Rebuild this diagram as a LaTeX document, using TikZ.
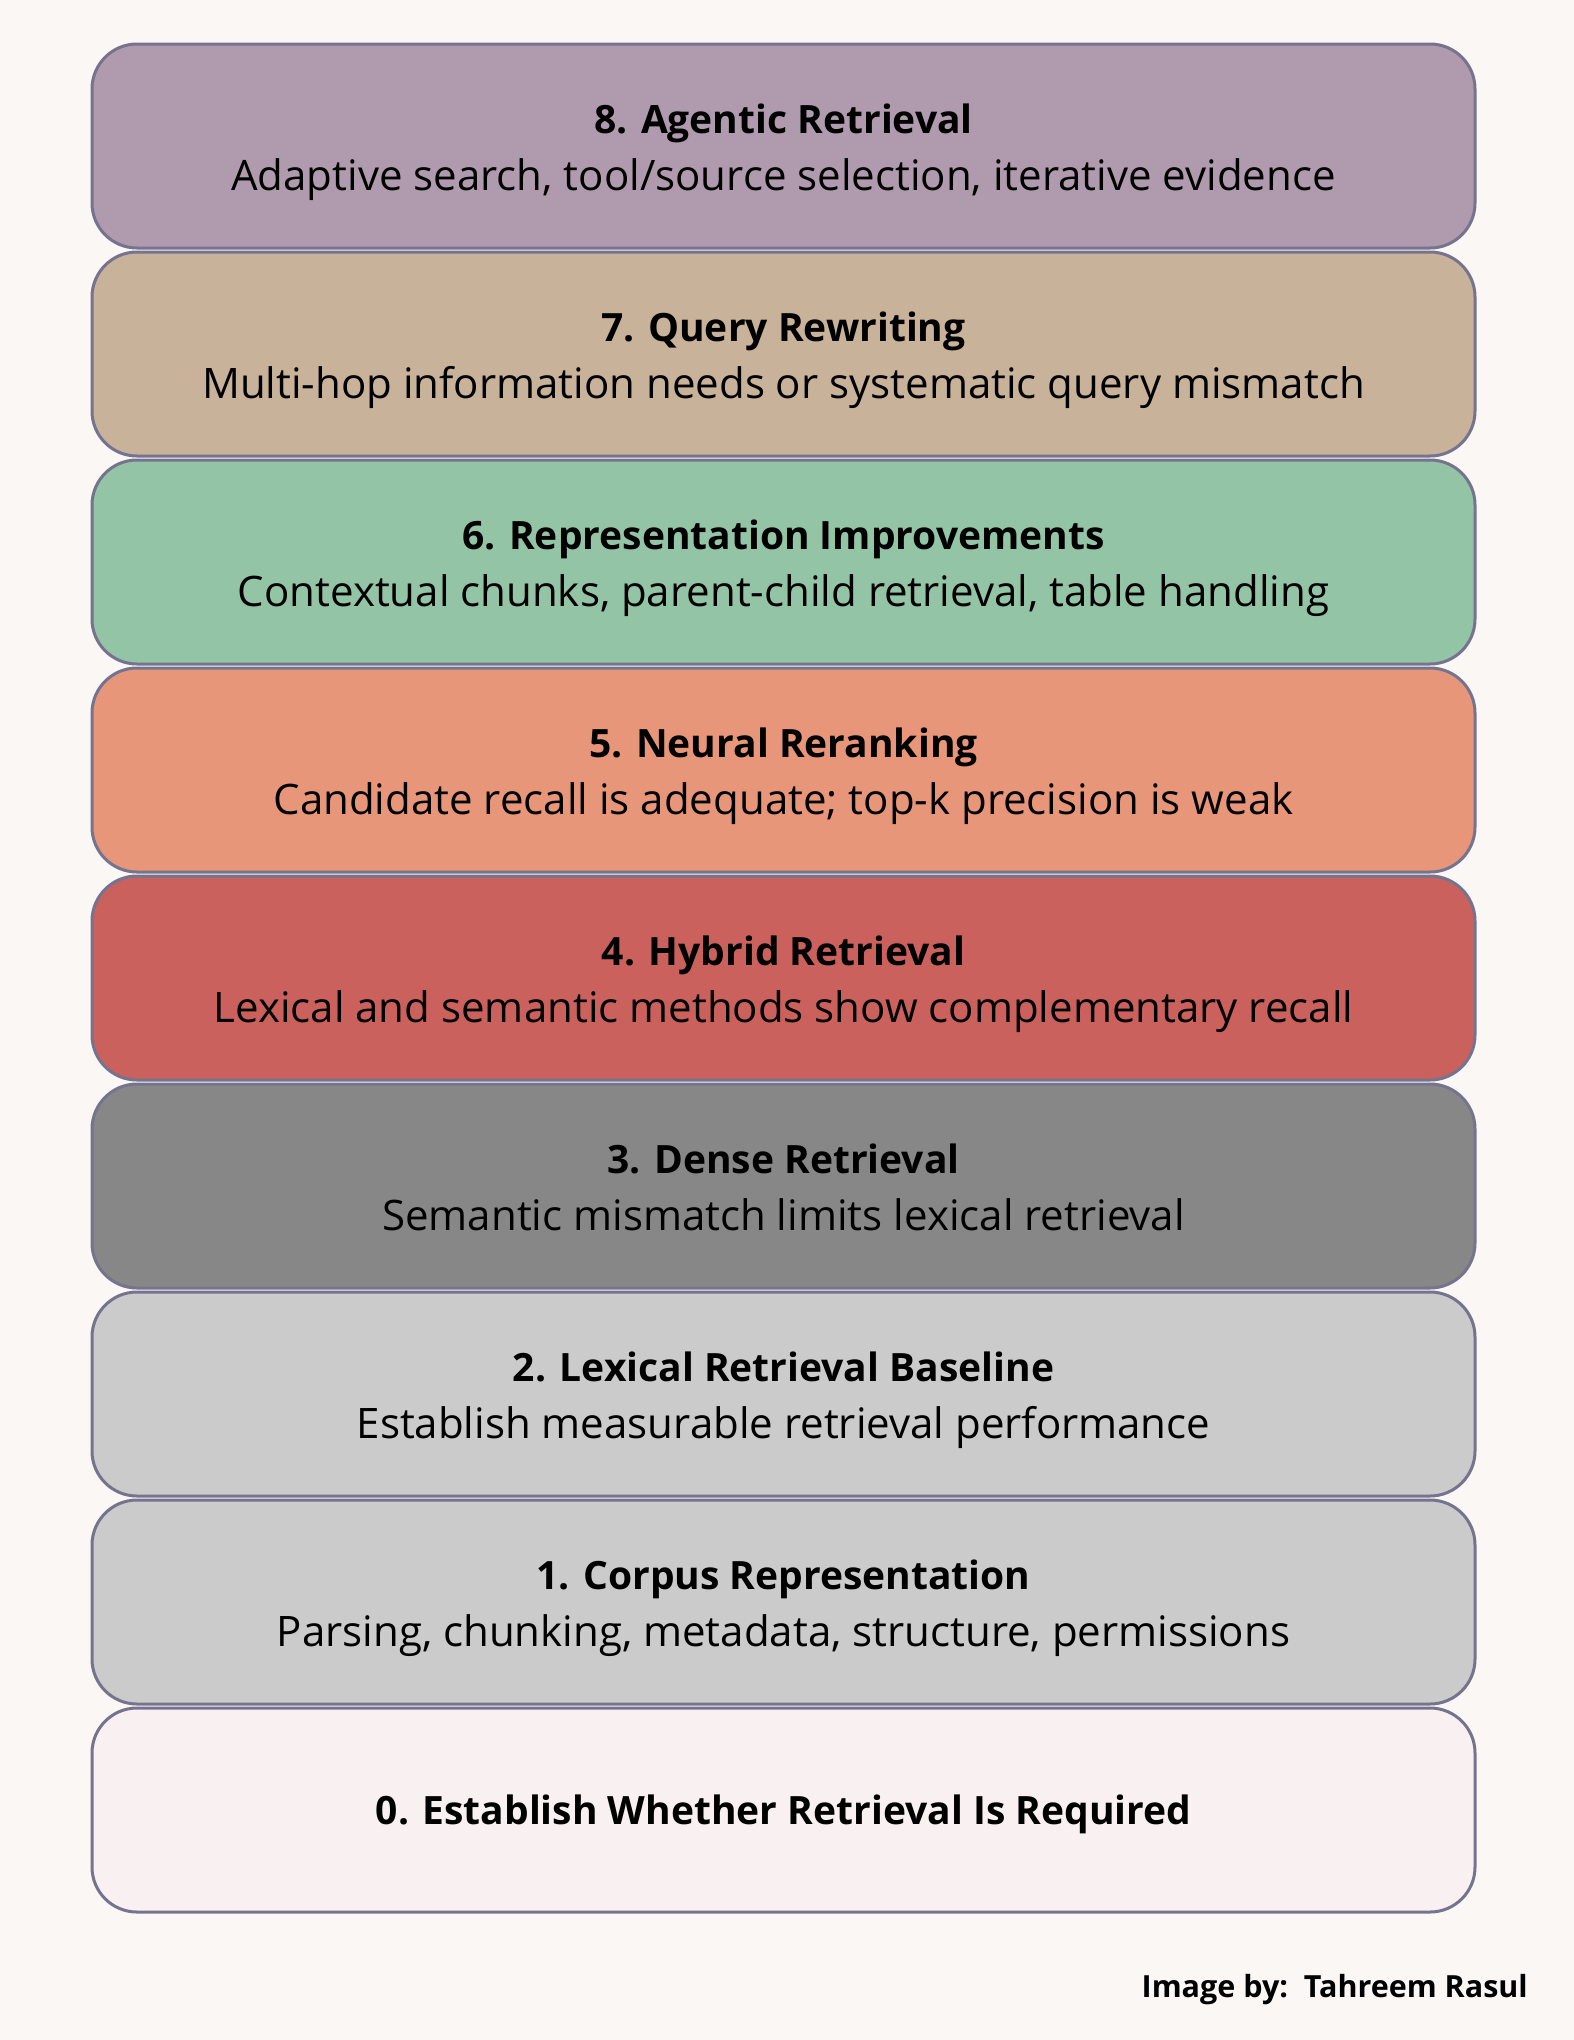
\documentclass[tikz,border=0pt]{standalone}
\usepackage{fontspec}
\setmainfont{Open Sans}
\usetikzlibrary{positioning}

\definecolor{bgcol}{HTML}{FAF7F4}
\definecolor{edgecol}{HTML}{76738F}
\definecolor{colA}{HTML}{B09BAE}
\definecolor{colB}{HTML}{C8B29A}
\definecolor{colC}{HTML}{93C4A6}
\definecolor{colD}{HTML}{E8967A}
\definecolor{colE}{HTML}{CB615D}
\definecolor{colF}{HTML}{878787}
\definecolor{colG}{HTML}{CBCBCB}
\definecolor{colH}{HTML}{F8F0F1}

\newcommand{\headfont}{\bfseries\fontsize{39}{57}\selectfont}

\tikzset{
    layer/.style={draw=edgecol, line width=3pt, rounded corners=45pt,
        minimum width=1383pt, minimum height=204pt, inner sep=0pt},
    caption/.style={align=center, text=black, inner sep=0pt,
        font=\fontsize{42}{57}\selectfont},
    credit/.style={font=\bfseries\fontsize{30.5}{36}\selectfont, anchor=east, inner sep=0pt}
}

\begin{document}
\begin{tikzpicture}[x=1pt, y=-1pt]
    % Page and background
    \fill[bgcol] (0,0) rectangle (1574,2040);
    \useasboundingbox (0,0) rectangle (1574,2040);

    % Stack of levels, top to bottom
    \node[layer, fill=colA] (lvl8) at (783.5,146) {};
    \node[layer, fill=colB] (lvl7) at (783.5,354) {};
    \node[layer, fill=colC] (lvl6) at (783.5,562) {};
    \node[layer, fill=colD] (lvl5) at (783.5,770) {};
    \node[layer, fill=colE] (lvl4) at (783.5,978) {};
    \node[layer, fill=colF] (lvl3) at (783.5,1186) {};
    \node[layer, fill=colG] (lvl2) at (783.5,1394) {};
    \node[layer, fill=colG] (lvl1) at (783.5,1602) {};
    \node[layer, fill=colH] (lvl0) at (783.5,1810) {};

    % Texts of the levels
    \node[caption] (txt8) at ([yshift=-5pt]lvl8.center)
        {{\headfont 8. Agentic Retrieval\strut}\\Adaptive search, tool/source selection, iterative evidence\strut};
    \node[caption] (txt7) at ([yshift=-5pt]lvl7.center)
        {{\headfont 7. Query Rewriting\strut}\\Multi-hop information needs or systematic query mismatch\strut};
    \node[caption] (txt6) at ([yshift=-5pt]lvl6.center)
        {{\headfont 6. Representation Improvements\strut}\\Contextual chunks, parent-child retrieval, table handling\strut};
    \node[caption] (txt5) at ([yshift=-5pt]lvl5.center)
        {{\headfont 5. Neural Reranking\strut}\\Candidate recall is adequate; top-k precision is weak\strut};
    \node[caption] (txt4) at ([yshift=-5pt]lvl4.center)
        {{\headfont 4. Hybrid Retrieval\strut}\\Lexical and semantic methods show complementary recall\strut};
    \node[caption] (txt3) at ([yshift=-5pt]lvl3.center)
        {{\headfont 3. Dense Retrieval\strut}\\Semantic mismatch limits lexical retrieval\strut};
    \node[caption] (txt2) at ([yshift=-5pt]lvl2.center)
        {{\headfont 2. Lexical Retrieval Baseline\strut}\\Establish measurable retrieval performance\strut};
    \node[caption] (txt1) at ([yshift=-5pt]lvl1.center)
        {{\headfont 1. Corpus Representation\strut}\\Parsing, chunking, metadata, structure, permissions\strut};
    \node[caption, font=\headfont] (txt0) at ([yshift=-3pt]lvl0.center)
        {0. Establish Whether Retrieval Is Required\strut};

    % Credit line
    \node[credit] (byline) at (1528,1990) {Image by:\ \ Tahreem Rasul};
\end{tikzpicture}
\end{document}
